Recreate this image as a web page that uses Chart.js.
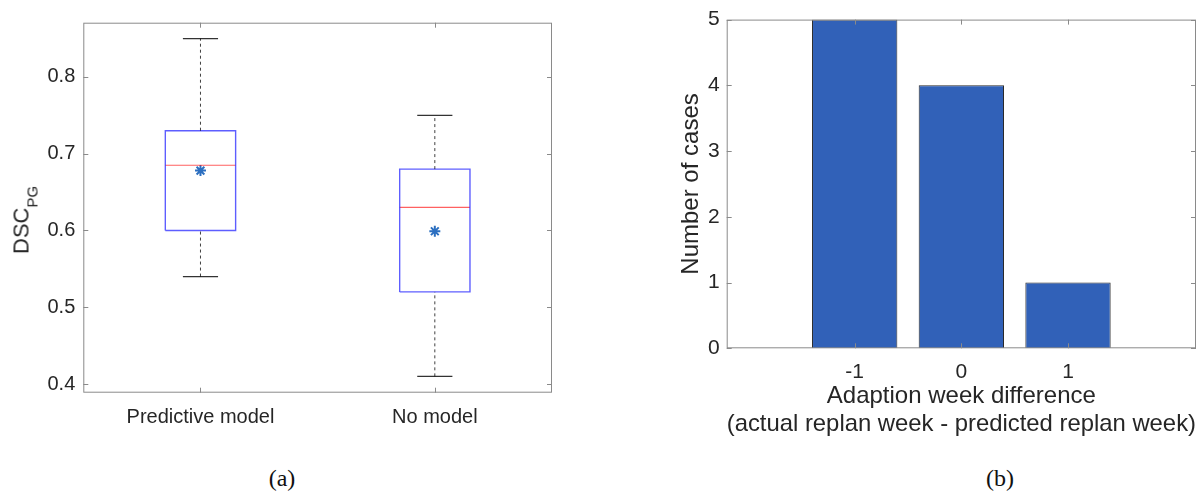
<!DOCTYPE html>
<html>
<head>
<meta charset="utf-8">
<script src="https://cdn.jsdelivr.net/npm/chart.js@4"></script>
<style>
  html, body { margin: 0; padding: 0; background: #fff; }
  body { width: 1197px; height: 492px; position: relative; overflow: hidden; font-family: "Liberation Sans", Arial, sans-serif; }
  #boxWrap { position: absolute; left: 0; top: 0; }
  #barWrap { position: absolute; left: 600px; top: 0; }
  .ylab { position: absolute; white-space: nowrap; color: #262626; line-height: 1; transform: translate(-50%, -50%) rotate(-90deg); }
  .ylab .main { font-size: 22px; }
  .ylab .sub { font-size: 15px; vertical-align: -9px; }
  .caption { position: absolute; font-family: "Liberation Serif", "DejaVu Serif", serif; font-size: 24px; color: #111; transform: translate(-50%, -50%); }
</style>
</head>
<body>
<div id="boxWrap"><canvas id="boxChart" width="600" height="440"></canvas></div>
<div id="barWrap"><canvas id="barChart" width="597" height="440"></canvas></div>
<div class="ylab" style="left:25px; top:220px;"><span class="main">DSC</span><span class="sub">PG</span></div>
<div class="caption" style="left:282px; top:478px;">(a)</div>
<div class="caption" style="left:1000px; top:478px;">(b)</div>
<script>
// (a) box plot summary values
const groups = ['Predictive model', 'No model'];
const whiskerLow = [0.54, 0.41];
const q1 = [0.60, 0.52];
const median = [0.685, 0.63];
const q3 = [0.73, 0.68];
const whiskerHigh = [0.85, 0.75];
const means = [0.678, 0.599];
const yTicksA = [0.4, 0.5, 0.6, 0.7, 0.8];

// (b) histogram of week differences
const weekDiff = [-1, 0, 1];
const cases = [5, 4, 1];
const yTicksB = [0, 1, 2, 3, 4, 5];

Chart.defaults.font.family = '"Liberation Sans", Arial, Helvetica, sans-serif';
Chart.defaults.color = '#262626';

// matlab style box: border on all four sides, ticks pointing inward
const matlabBox = {
    id: 'matlabBox',
    afterDatasetsDraw(chart) {
        const {ctx, chartArea: a, scales} = chart;
        const len = 5;
        ctx.save();
        ctx.strokeStyle = '#8a8a8a';
        ctx.lineWidth = 1;
        ctx.strokeRect(a.left + 0.5, a.top + 0.5, a.right - a.left - 1, a.bottom - a.top - 1);
        ctx.beginPath();
        scales.x.ticks.forEach(t => {
            const px = Math.round(scales.x.getPixelForValue(t.value)) + 0.5;
            ctx.moveTo(px, a.bottom); ctx.lineTo(px, a.bottom - len);
            ctx.moveTo(px, a.top); ctx.lineTo(px, a.top + len);
        });
        scales.y.ticks.forEach(t => {
            const py = Math.round(scales.y.getPixelForValue(t.value)) + 0.5;
            ctx.moveTo(a.left, py); ctx.lineTo(a.left + len, py);
            ctx.moveTo(a.right, py); ctx.lineTo(a.right - len, py);
        });
        ctx.stroke();
        ctx.restore();
    }
};

// build box plot pieces from the summary arrays
const boxHalf = 0.15;
const capHalf = 0.075;
const boxSets = [];
groups.forEach((g, i) => {
    const x = i + 1;
    const seg = (pts, color, width, dash) => ({
        data: pts, showLine: true, borderColor: color, borderWidth: width,
        borderDash: dash || [], pointRadius: 0, fill: false, tension: 0
    });
    boxSets.push(seg([{x, y: q3[i]}, {x, y: whiskerHigh[i]}], 'rgba(0,0,0,0.75)', 1, [3, 3]));
    boxSets.push(seg([{x, y: whiskerLow[i]}, {x, y: q1[i]}], 'rgba(0,0,0,0.75)', 1, [3, 3]));
    boxSets.push(seg([{x: x - capHalf, y: whiskerHigh[i]}, {x: x + capHalf, y: whiskerHigh[i]}], '#333', 1.2));
    boxSets.push(seg([{x: x - capHalf, y: whiskerLow[i]}, {x: x + capHalf, y: whiskerLow[i]}], '#333', 1.2));
    boxSets.push(seg([
        {x: x - boxHalf, y: q1[i]}, {x: x + boxHalf, y: q1[i]},
        {x: x + boxHalf, y: q3[i]}, {x: x - boxHalf, y: q3[i]}, {x: x - boxHalf, y: q1[i]}
    ], 'rgba(40,40,255,0.75)', 1.4));
    boxSets.push(seg([{x: x - boxHalf, y: median[i]}, {x: x + boxHalf, y: median[i]}], 'rgba(255,30,30,0.7)', 1.2));
});
boxSets.push({
    data: means.map((m, i) => ({x: i + 1, y: m})),
    showLine: false, pointStyle: 'star', pointRadius: 5.5,
    borderColor: '#2c6fc0', backgroundColor: '#2c6fc0', pointBorderWidth: 2
});

new Chart(document.getElementById('boxChart'), {
    type: 'scatter',
    data: { datasets: boxSets },
    options: {
        responsive: false,
        animation: false,
        layout: { padding: { left: 0, right: 48, top: 22.7, bottom: 0 } },
        plugins: { legend: { display: false }, tooltip: { enabled: false } },
        scales: {
            x: {
                type: 'linear', min: 0.5, max: 2.5,
                grid: { display: false }, border: { display: false },
                afterBuildTicks: s => { s.ticks = groups.map((g, i) => ({ value: i + 1 })); },
                afterFit: s => { s.height = 47.3; },
                ticks: { autoSkip: false, maxRotation: 0, padding: 5, font: { size: 20 },
                         callback: v => groups[Math.round(v) - 1] }
            },
            y: {
                min: 0.3887, max: 0.8707,
                grid: { display: false, drawTicks: false }, border: { display: false },
                afterBuildTicks: s => { s.ticks = yTicksA.map(v => ({ value: v })); },
                afterFit: s => { s.width = 83.3; },
                ticks: { autoSkip: false, padding: 8, font: { size: 20 }, callback: v => v.toFixed(1) }
            }
        }
    },
    plugins: [matlabBox]
});

new Chart(document.getElementById('barChart'), {
    type: 'bar',
    data: {
        datasets: [{
            data: weekDiff.map((w, i) => ({ x: w, y: cases[i] })),
            backgroundColor: '#3161b8',
            borderColor: '#2a2a2a',
            borderWidth: 1,
            barPercentage: 0.8,
            categoryPercentage: 1
        }]
    },
    options: {
        responsive: false,
        animation: false,
        layout: { padding: { left: 73.3, right: 1, top: 17.3, bottom: 0 } },
        plugins: { legend: { display: false }, tooltip: { enabled: false } },
        scales: {
            x: {
                type: 'linear', min: -2.2, max: 2.2, offset: false,
                grid: { display: false, drawTicks: false, offset: false }, border: { display: false },
                afterBuildTicks: s => { s.ticks = weekDiff.map(v => ({ value: v })); },
                afterFit: s => { s.height = 91.7; },
                ticks: { autoSkip: false, maxRotation: 0, padding: 11, font: { size: 21 } },
                title: {
                    display: true,
                    text: ['Adaption week difference', '(actual replan week - predicted replan week)'],
                    font: { size: 24, lineHeight: 1.15 },
                    padding: { top: 0, bottom: 2 }
                }
            },
            y: {
                min: 0, max: 5,
                grid: { display: false, drawTicks: false }, border: { display: false },
                afterBuildTicks: s => { s.ticks = yTicksB.map(v => ({ value: v })); },
                afterFit: s => { s.width = 53.4; },
                ticks: { autoSkip: false, padding: 7, font: { size: 21 } },
                title: { display: true, text: 'Number of cases', font: { size: 24 }, padding: { top: 4, bottom: 4 } }
            }
        }
    },
    plugins: [matlabBox]
});
</script>
</body>
</html>
